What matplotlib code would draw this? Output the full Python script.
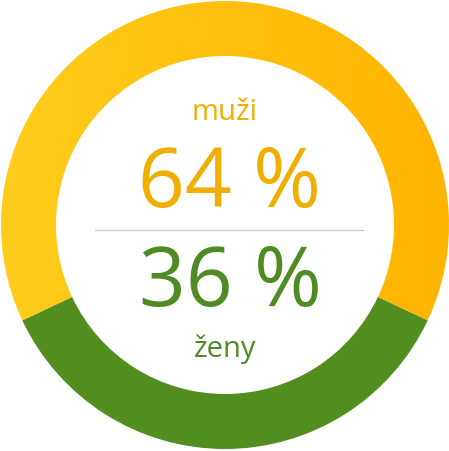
import matplotlib
matplotlib.use("Agg")
import matplotlib.pyplot as plt
import numpy as np
from matplotlib.patches import Wedge

labels = ["muži", "ženy"]
shares = [64, 36]
colors_grad = ["#FFCD1C", "#FFB400"]   # muži gradient left -> right
color_green = "#528D20"
text_colors = ["#F0AE00", "#4F8B22"]

W, H = 449, 452
cx, cy = 225, 226
r_out, r_in = 224, 169

plt.rcParams["font.family"] = ["Open Sans", "DejaVu Sans"]

fig = plt.figure(figsize=(W / 100, H / 100), dpi=100)
ax = fig.add_axes([0, 0, 1, 1])
ax.set_xlim(0, W)
ax.set_ylim(H, 0)
ax.set_aspect("equal")
ax.axis("off")

# ženy segment centred at the bottom (y flipped, so 90 deg points down)
green_span = shares[1] / sum(shares) * 360
g_start = 90 - green_span / 2
g_end = 90 + green_span / 2
ax.add_patch(Wedge((cx, cy), r_out, g_start, g_end, width=r_out - r_in,
                   facecolor=color_green, edgecolor="none"))

# muži segment with horizontal gradient
yellow = Wedge((cx, cy), r_out, g_end, g_start + 360, width=r_out - r_in,
               facecolor="none", edgecolor="none")
ax.add_patch(yellow)
c0 = np.array(matplotlib.colors.to_rgb(colors_grad[0]))
c1 = np.array(matplotlib.colors.to_rgb(colors_grad[1]))
t = np.linspace(0, 1, 256)
grad = (c0[None, :] * (1 - t[:, None]) + c1[None, :] * t[:, None])[None, :, :]
im = ax.imshow(grad, extent=(cx - r_out, cx + r_out, cy + r_out, cy - r_out),
               aspect="auto", interpolation="bilinear", zorder=1)
im.set_clip_path(yellow)

# centre texts
ax.text(cx, 112, labels[0], ha="center", va="center", fontsize=21,
        color=text_colors[0])
ax.text(cx + 5, 186, f"{shares[0]} %", ha="center", va="center", fontsize=59,
        color=text_colors[0])
ax.plot([95, 363], [231, 231], color="#C8C8C8", lw=0.8)
ax.text(cx + 5, 285, f"{shares[1]} %", ha="center", va="center", fontsize=59,
        color=text_colors[1])
ax.text(cx, 349, labels[1], ha="center", va="center", fontsize=21,
        color=text_colors[1])

fig.savefig("out.png", dpi=100)
